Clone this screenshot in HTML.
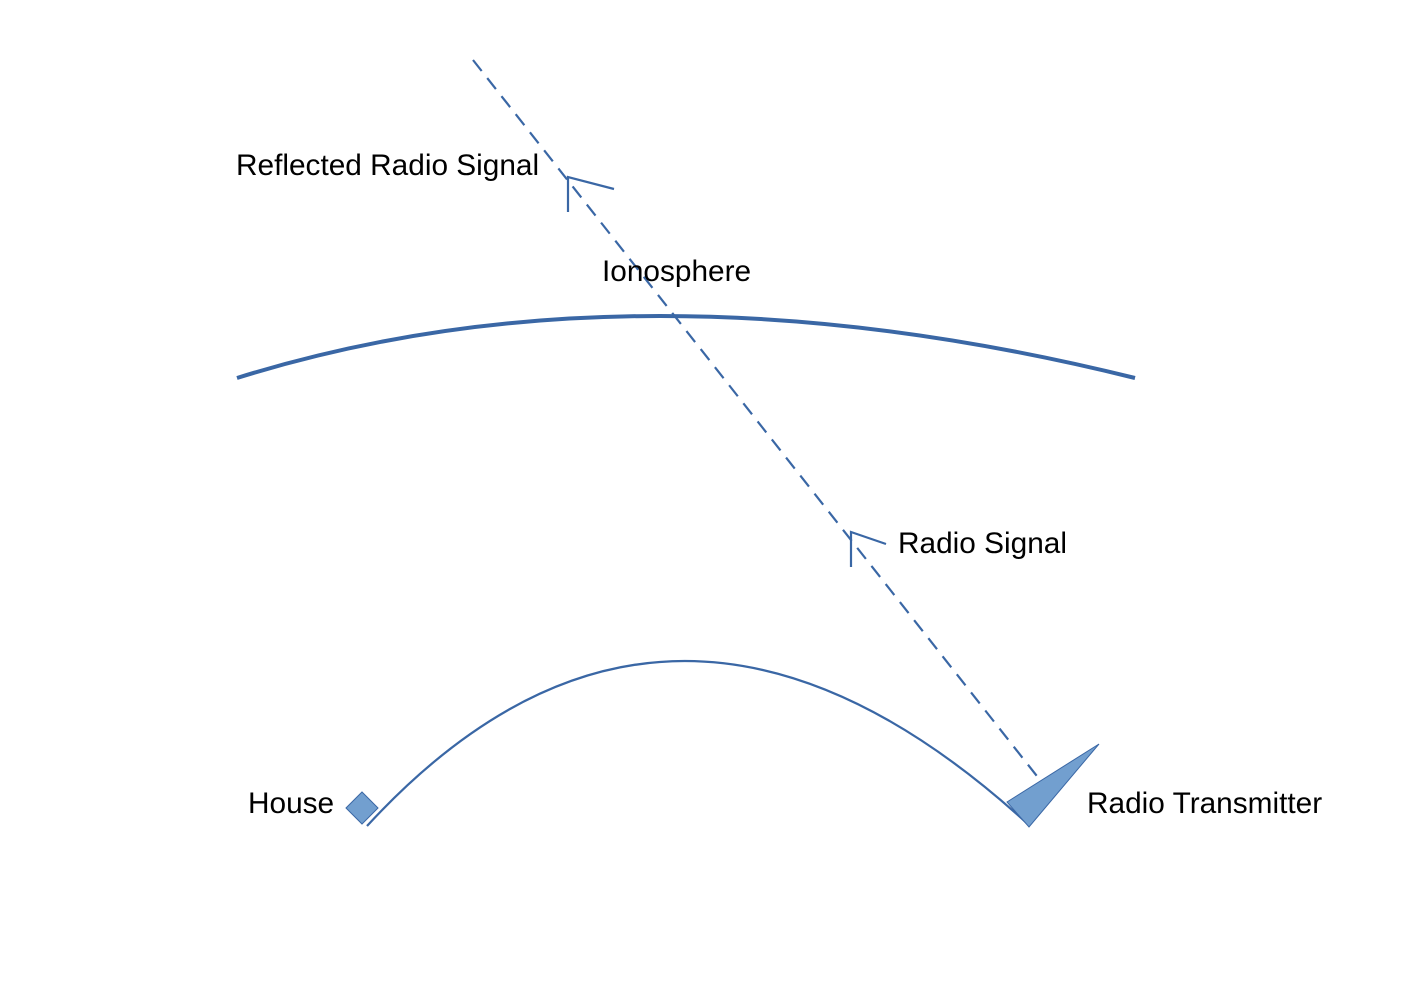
<!DOCTYPE html>
<html><head><meta charset="utf-8"><style>
html,body{margin:0;padding:0;background:#fff;}
svg{display:block;}
text{font-family:"Liberation Sans",sans-serif;font-size:29.8px;fill:#000;}
</style></head><body>
<svg width="1403" height="992" viewBox="0 0 1403 992" xmlns="http://www.w3.org/2000/svg">
<path d="M237,378 Q634,254 1135,378" fill="none" stroke="#3a67a5" stroke-width="4"/>
<path d="M367,826 Q671,496 1030,826" fill="none" stroke="#3a67a5" stroke-width="2.2"/>
<line x1="473" y1="60" x2="1040" y2="780" stroke="#3a67a5" stroke-width="2.2" stroke-dasharray="14,9"/>
<polyline points="568,212 568,177 614,189" fill="none" stroke="#3a67a5" stroke-width="2.2"/>
<polyline points="851,567 851,532 886,544" fill="none" stroke="#3a67a5" stroke-width="2.2"/>
<polygon points="1007,802 1099,744 1029,827" fill="#729fcf" stroke="#3a67a5" stroke-width="1"/>
<polygon points="346,808 362,792 378,808 362,824" fill="#729fcf" stroke="#3a67a5" stroke-width="1"/>
<text x="236" y="175">Reflected Radio Signal</text>
<text x="602" y="281">Ionosphere</text>
<text x="898" y="553">Radio Signal</text>
<text x="248" y="813">House</text>
<text x="1087" y="813">Radio Transmitter</text>
</svg>
</body></html>
